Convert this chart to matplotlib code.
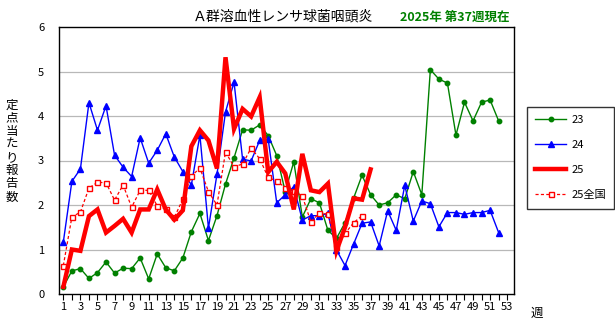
import numpy as np
import matplotlib
matplotlib.use("Agg")
import matplotlib.pyplot as plt

plt.rcParams['font.family'] = ['Noto Sans CJK JP', 'DejaVu Sans']

# -- data (weekly reports per sentinel)
weeks_23 = list(range(1, 53))
val_23 = [0.16, 0.52, 0.57, 0.35, 0.48, 0.72, 0.47, 0.58, 0.57, 0.81,
          0.34, 0.90, 0.59, 0.52, 0.81, 1.40, 1.81, 1.20, 1.76, 2.47,
          3.06, 3.69, 3.68, 3.80, 3.56, 3.11, 2.30, 2.97, 1.73, 2.14,
          2.05, 1.43, 1.25, 1.60, 2.15, 2.67, 2.23, 2.00, 2.05, 2.23,
          2.14, 2.75, 2.23, 5.04, 4.83, 4.74, 3.57, 4.31, 3.89, 4.31,
          4.36, 3.89]

weeks_24 = list(range(1, 53))
val_24 = [1.17, 2.53, 2.81, 4.30, 3.68, 4.23, 3.12, 2.85, 2.64, 3.51,
          2.94, 3.23, 3.60, 3.08, 2.75, 2.45, 3.57, 1.48, 2.69, 4.09,
          4.76, 3.03, 2.99, 3.45, 3.48, 2.05, 2.23, 2.41, 1.66, 1.76,
          1.76, 1.81, 0.99, 0.64, 1.12, 1.59, 1.62, 1.08, 1.87, 1.43,
          2.44, 1.64, 2.09, 2.03, 1.51, 1.83, 1.83, 1.79, 1.83, 1.83,
          1.88, 1.38]

weeks_25 = list(range(1, 38))
val_25 = [0.16, 1.00, 0.97, 1.75, 1.90, 1.38, 1.53, 1.69, 1.38, 1.90,
          1.90, 2.35, 1.90, 1.67, 1.88, 3.32, 3.68, 3.45, 2.82, 5.32,
          3.71, 4.16, 3.99, 4.42, 2.74, 2.97, 2.71, 1.90, 3.15, 2.33,
          2.29, 2.48, 0.97, 1.50, 2.15, 2.12, 2.80]

weeks_nat = list(range(1, 37))
val_nat = [0.64, 1.73, 1.84, 2.38, 2.51, 2.50, 2.11, 2.45, 1.95, 2.33,
           2.33, 1.98, 1.91, 1.72, 2.13, 2.65, 2.83, 2.30, 2.00, 3.19,
           2.86, 2.92, 3.28, 3.04, 2.62, 2.54, 2.39, 2.32, 2.20, 1.62,
           1.82, 1.79, 1.05, 1.36, 1.60, 1.76]

W, H = 615, 325
fig = plt.figure(figsize=(W / 100, H / 100), dpi=100)
ax = fig.add_axes([59.5 / W, 1 - 294 / H, (514 - 59.5) / W, (294 - 27) / H])

ax.plot(weeks_23, val_23, color='#008000', lw=1.0, marker='o', ms=3.2,
        label='23', zorder=3)
ax.plot(weeks_24, val_24, color='#0000ff', lw=1.0, marker='^', ms=4.5,
        label='24', zorder=3)
ax.plot(weeks_25, val_25, color='#ff0000', lw=3.2, label='25', zorder=5,
        solid_joinstyle='miter')
ax.plot(weeks_nat, val_nat, color='#ff0000', lw=0.9, ls=(0, (2.5, 1.8)),
        marker='s', ms=3.6, mfc='white', mec='#ff0000', mew=1.0,
        label='25全国', zorder=4)

ax.set_xlim(0.55, 53.8)
ax.set_ylim(0, 6)
ax.set_yticks(range(0, 7))
ax.set_xticks(range(1, 54))
ax.set_xticklabels([str(w) if w % 2 == 1 else '' for w in range(1, 54)])
ax.tick_params(axis='x', length=4, width=0.8, labelsize=8, pad=1.5,
               direction='out')
ax.tick_params(axis='y', length=0, labelsize=8, pad=11)
for y in range(1, 6):
    ax.axhline(y, color='#b8b8b8', lw=0.9, zorder=1)
for s in ax.spines.values():
    s.set_linewidth(1.0)
    s.set_color('black')

fig.text(283 / W, 1 - 17 / H, 'Ａ群溶血性レンサ球菌咽頭炎', ha='center',
         va='center', fontsize=10)
fig.text(455 / W, 1 - 17 / H, '2025年 第37週現在', ha='center',
         va='center', fontsize=9, color='#008000', fontweight='bold')
fig.text(12 / W, 1 - 151 / H, '\n'.join('定点当たり報告数'), ha='center',
         va='center', fontsize=9, linespacing=1.02)
fig.text(537 / W, 1 - 313 / H, '週', ha='center', va='center', fontsize=9)

leg = fig.legend(loc='upper left', bbox_to_anchor=(527 / W, 1 - 107 / H),
                 borderaxespad=0, fontsize=8, handlelength=2.8,
                 labelspacing=1.35, borderpad=0.75, handletextpad=0.45,
                 frameon=True, fancybox=False, edgecolor='black')
leg.get_frame().set_linewidth(1.0)

fig.savefig('out.png', dpi=100)
